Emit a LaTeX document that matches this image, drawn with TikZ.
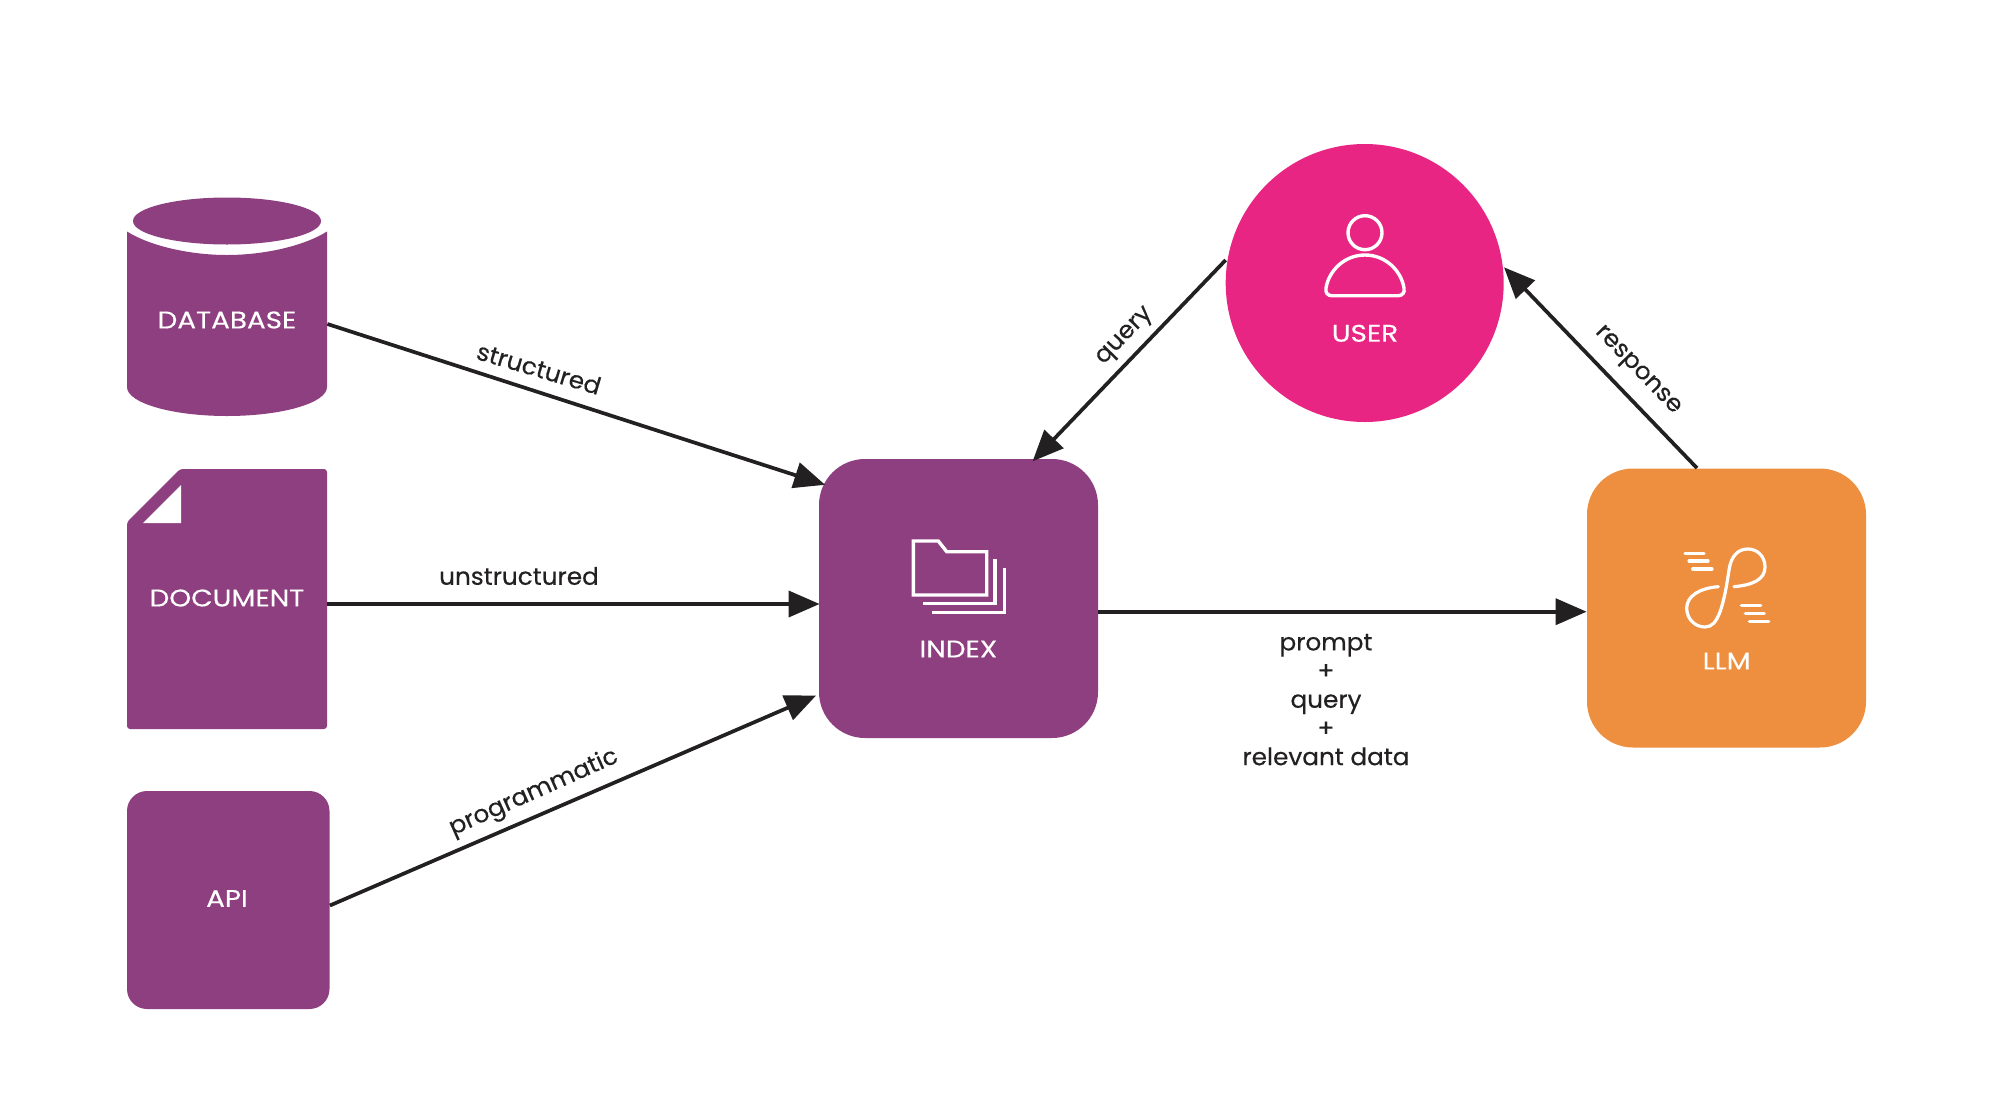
\documentclass[tikz,border=0pt]{standalone}
\usepackage{fontspec}
\setmainfont{Poppins}
\newfontfamily\capsfont[FakeStretch=1.16,FakeBold=0.35]{Poppins}
\newfontfamily\labelfont[FakeStretch=1.03,FakeBold=0.35]{Poppins}
\usetikzlibrary{arrows.meta}
\definecolor{plum}{HTML}{8E3F80}
\definecolor{hotpink}{HTML}{E82583}
\definecolor{amber}{HTML}{EE8E3F}
\definecolor{ink}{HTML}{222021}
\tikzset{
  x=0.5pt,y=-0.5pt,
  boxnode/.style={rectangle,inner sep=0pt,minimum width=139.5pt,minimum height=139.5pt,rounded corners=23pt},
  whitetext/.style={text=white,font=\capsfont\fontsize{12pt}{14pt}\selectfont,inner sep=0pt},
  edgelabel/.style={text=ink,font=\labelfont\fontsize{12pt}{14.35pt}\selectfont,inner sep=0pt},
  flow/.style={draw=ink,line width=1.85pt,-{Triangle[length=15.5pt,width=13pt]}},
  icon/.style={draw=white,line width=1.7pt,line join=miter},
  iconthin/.style={draw=white,line width=1.6pt,line cap=round}
}
\begin{document}
\begin{tikzpicture}
\useasboundingbox (0,0) rectangle (1999,1120);
\fill[white] (0,0) rectangle (1999,1120);

% database
\fill[plum] (127,231.5) .. controls (150,246) and (190,255) .. (227,255)
  .. controls (264,255) and (304,246) .. (327,231.5) -- (327,387)
  .. controls (327,403) and (282,416) .. (227,416)
  .. controls (172,416) and (127,403) .. (127,387) -- cycle;
\fill[plum] (227,221) ellipse [x radius=94,y radius=23.5];
\node[whitetext,minimum width=100pt] (db) at (227,320) {DATABASE};

% document
\fill[plum,rounded corners=1.5pt] (180,469) -- (327,469) -- (327,729) -- (127,729) -- (127,522) -- cycle;
\fill[white] (181,485) -- (181,523) -- (143,523) -- cycle;
\node[whitetext,minimum width=100pt] (doc) at (227,598) {DOCUMENT};

% api
\node[fill=plum,inner sep=0pt,minimum width=101.25pt,minimum height=109pt,rounded corners=10pt] (api) at (228.25,900) {};
\node[whitetext] (apilabel) at (227,898.5) {API};

% index
\node[boxnode,fill=plum] (idx) at (958.5,598.5) {};
\draw[icon] (913.3,541) -- (938.3,541) -- (946.7,551.7) -- (986.7,551.7) -- (986.7,595) -- (913.3,595) -- cycle;
\draw[icon] (995,559.3) -- (995,603.3) -- (922.7,603.3);
\draw[icon] (1004.3,568.3) -- (1004.3,612.7) -- (931.7,612.7);
\node[whitetext] (idxlabel) at (958.3,649) {INDEX};

% user
\node[circle,fill=hotpink,inner sep=0pt,minimum size=139pt] (usr) at (1364.7,283) {};
\draw[icon] (1365,232.7) circle [radius=17];
\draw[icon] (1326,288) .. controls (1329,270) and (1345,255) .. (1365,255)
  .. controls (1385,255) and (1401,270) .. (1404,288)
  .. controls (1405,293) and (1402,295.7) .. (1398,295.7) -- (1332,295.7)
  .. controls (1328,295.7) and (1325,293) .. (1326,288) -- cycle;
\node[whitetext] (usrlabel) at (1365,333.3) {USER};

% llm
\node[boxnode,fill=amber] (llm) at (1726.5,608) {};
\draw[iconthin] (1734,586.7) .. controls (1752,585) and (1765,580) .. (1765,567)
  .. controls (1765,556) and (1757,549) .. (1748,549)
  .. controls (1737,549) and (1731,557) .. (1729,570)
  .. controls (1726,590) and (1724,600) .. (1720,612)
  .. controls (1716,622) and (1712,627) .. (1705,627)
  .. controls (1695,627) and (1686.7,619) .. (1686.7,608)
  .. controls (1686.7,596) and (1700,588) .. (1718.3,586.7);
\draw[iconthin] (1685,553.3) -- (1704,553.3);
\draw[iconthin] (1689,561) -- (1708,561);
\draw[iconthin] (1692.7,569) -- (1712,569);
\draw[iconthin] (1741.3,605.7) -- (1760.7,605.7);
\draw[iconthin] (1745.3,613.7) -- (1764.3,613.7);
\draw[iconthin] (1749.3,621.7) -- (1768.7,621.7);
\node[whitetext] (llmlabel) at (1726.7,661) {LLM};

% connectors
\draw[flow] ([shift={(0,4)}]db.east) -- ([shift={(6.5,-113.7)}]idx.west);
\draw[flow] ([shift={(0,6)}]doc.east) -- ([shift={(1,5.5)}]idx.west);
\draw[flow] ([shift={(0,5.5)}]api.east) -- ([shift={(-2.5,97)}]idx.west);
\draw[flow] ([shift={(-139,-23)}]usr.center) -- ([shift={(-65.8,2.7)}]idx.north east);
\draw[flow] ([shift={(-29.5,0)}]llm.north) -- ([shift={(139.3,-15.7)}]usr.center);
\draw[flow] ([shift={(0,13.2)}]idx.east) -- ([shift={(0,3.7)}]llm.west);

% labels
\node[edgelabel,rotate=-16.5] (lstruct) at (539,368.5) {structured};
\node[edgelabel] (lunstruct) at (519,576) {unstructured};
\node[edgelabel,rotate=24] (lprog) at (534,793) {programmatic};
\node[edgelabel,rotate=46] (lquery) at (1125.5,337) {query};
\node[edgelabel,rotate=-46] (lresp) at (1637,371) {response};
\node[edgelabel,align=center,anchor=north] (lprompt) at (1326,633.5) {prompt\\+\\query\\+\\relevant data};
\end{tikzpicture}
\end{document}
